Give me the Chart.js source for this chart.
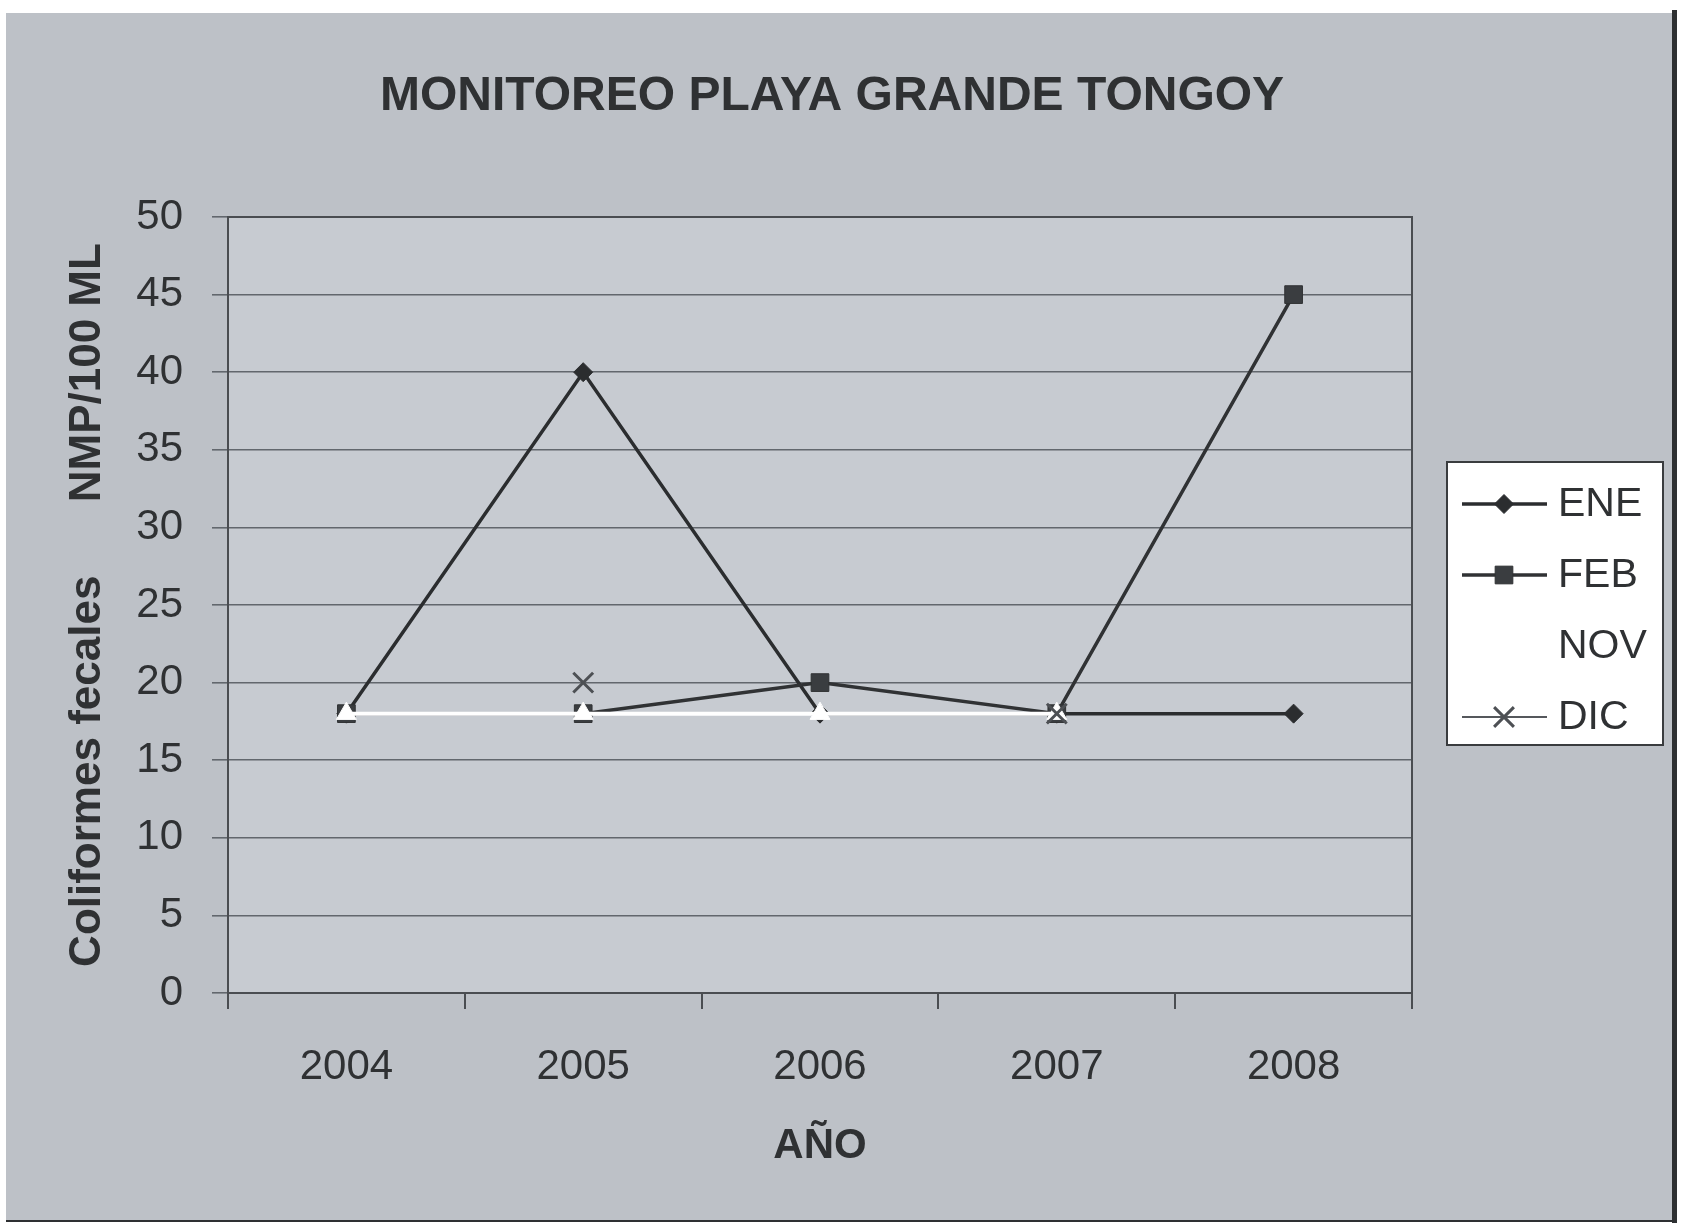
<!DOCTYPE html>
<html>
<head>
<meta charset="utf-8">
<title>Monitoreo Playa Grande Tongoy</title>
<script src="https://cdn.jsdelivr.net/npm/chart.js@4/dist/chart.umd.min.js"></script>
<style>
    html, body { margin: 0; padding: 0; background: #ffffff; }
    #wrap { width: 1683px; height: 1226px; }
</style>
</head>
<body>
<div id="wrap"><canvas id="line"></canvas></div>
<script>
'use strict';

// 데이터
const years = ['2004', '2005', '2006', '2007', '2008'];
const seriesNames = ['ENE', 'FEB', 'NOV', 'DIC'];
const eneValues = [18, 40, 18, 18, 18];
const febValues = [18, 18, 20, 18, 45];
const novValues = [18, 18, 18, 18, null];
const dicValues = [null, 20, null, 18, null];
const yTicks = [0, 5, 10, 15, 20, 25, 30, 35, 40, 45, 50];
const chartTitle = 'MONITOREO PLAYA GRANDE TONGOY';

const FONT = '"Liberation Sans", Arial, sans-serif';
const TEXT = '#2f3133';

// 배경, 제목, 플롯 영역 테두리
const backdrop = {
    id: 'backdrop',
    beforeDraw(chart) {
        const ctx = chart.ctx;
        const a = chart.chartArea;
        ctx.save();
        ctx.fillStyle = '#ffffff';
        ctx.fillRect(0, 0, chart.width, chart.height);
        ctx.fillStyle = '#bdc1c7';
        ctx.fillRect(6, 13, 1668, 1208);
        ctx.fillStyle = '#c7cbd1';
        ctx.fillRect(a.left, a.top, a.right - a.left, a.bottom - a.top);
        // 오른쪽 / 아래 진한 테두리
        ctx.fillStyle = '#2e3032';
        ctx.fillRect(1672, 10, 5, 1213);
        ctx.fillRect(6, 1220, 1671, 2);

        // 제목은 그림 전체 기준으로 가운데
        ctx.fillStyle = TEXT;
        ctx.font = 'bold 48px ' + FONT;
        ctx.textAlign = 'center';
        ctx.textBaseline = 'middle';
        ctx.fillText(chartTitle, 832, 97);
        ctx.restore();
    },
    afterDatasetsDraw(chart) {
        const ctx = chart.ctx;
        const a = chart.chartArea;
        ctx.save();
        ctx.strokeStyle = '#4a4d51';
        ctx.lineWidth = 2;
        ctx.beginPath();
        ctx.moveTo(a.left, a.top);
        ctx.lineTo(a.right, a.top);
        ctx.lineTo(a.right, a.bottom);
        ctx.stroke();
        ctx.restore();
    }
};

// 엑셀 스타일 범례 (선 + 마커)
const sideLegend = {
    id: 'sideLegend',
    afterDraw(chart) {
        const ctx = chart.ctx;
        const box = { x: 1447, y: 462, w: 216, h: 283 };
        ctx.save();
        ctx.fillStyle = '#ffffff';
        ctx.fillRect(box.x, box.y, box.w, box.h);
        ctx.strokeStyle = '#3a3c3f';
        ctx.lineWidth = 2;
        ctx.strokeRect(box.x, box.y, box.w, box.h);

        chart.data.datasets.forEach(function (ds, i) {
            const y = 504 + i * 71;
            ctx.strokeStyle = ds.borderColor;
            ctx.lineWidth = ds.borderWidth;
            ctx.beginPath();
            ctx.moveTo(1462, y);
            ctx.lineTo(1547, y);
            ctx.stroke();

            ctx.fillStyle = ds.pointBackgroundColor;
            ctx.strokeStyle = ds.pointBorderColor;
            ctx.lineWidth = ds.pointBorderWidth;
            Chart.helpers.drawPoint(ctx, {
                pointStyle: ds.pointStyle,
                radius: ds.pointRadius,
                rotation: 0,
                borderWidth: ds.pointBorderWidth
            }, 1504, y);

            ctx.fillStyle = TEXT;
            ctx.font = '41px ' + FONT;
            ctx.textBaseline = 'middle';
            ctx.textAlign = 'left';
            ctx.fillText(ds.label, 1558, y + 1);
        });
        ctx.restore();
    }
};

const data = {
    labels: years,
    datasets: [
        {
            label: seriesNames[0],
            data: eneValues,
            borderColor: '#2b2d2f',
            borderWidth: 3.5,
            pointStyle: 'rectRot',
            pointRadius: 9.5,
            pointBackgroundColor: '#2b2d2f',
            pointBorderColor: '#2b2d2f',
            pointBorderWidth: 1,
            order: 3
        },
        {
            label: seriesNames[1],
            data: febValues,
            borderColor: '#303234',
            borderWidth: 3.5,
            pointStyle: 'rect',
            pointRadius: 12.5,
            pointBackgroundColor: '#3a3d40',
            pointBorderColor: '#303234',
            pointBorderWidth: 1,
            order: 2
        },
        {
            label: seriesNames[2],
            data: novValues,
            borderColor: '#ffffff',
            borderWidth: 4,
            pointStyle: 'triangle',
            pointRadius: 11.5,
            pointBackgroundColor: '#ffffff',
            pointBorderColor: '#ffffff',
            pointBorderWidth: 1,
            order: 1
        },
        {
            label: seriesNames[3],
            data: dicValues,
            borderColor: '#55585c',
            borderWidth: 2,
            pointStyle: 'crossRot',
            pointRadius: 14,
            pointBackgroundColor: '#4d5054',
            pointBorderColor: '#4d5054',
            pointBorderWidth: 3,
            spanGaps: false,
            order: 0
        }
    ]
};

const config = {
    type: 'line',
    data,
    options: {
        responsive: true,
        maintainAspectRatio: false,
        animation: false,
        layout: { padding: { left: 0, right: 271, top: 217, bottom: 0 } },
        plugins: {
            legend: { display: false },
            tooltip: { enabled: false },
            title: { display: false }
        },
        scales: {
            x: {
                offset: true,
                afterFit(scale) { scale.height = 233; },
                grid: {
                    offset: true,
                    drawOnChartArea: false,
                    drawTicks: true,
                    tickLength: 16,
                    color: '#4a4d51',
                    lineWidth: 2
                },
                border: { display: true, color: '#4a4d51', width: 2 },
                ticks: {
                    color: TEXT,
                    font: { family: FONT, size: 42 },
                    padding: 33,
                    maxRotation: 0
                },
                title: {
                    display: true,
                    text: 'AÑO',
                    color: TEXT,
                    font: { family: FONT, size: 42, weight: 'bold' },
                    padding: { top: 0, bottom: 54 }
                }
            },
            y: {
                min: 0,
                max: 50,
                afterFit(scale) { scale.width = 228; },
                afterBuildTicks(scale) {
                    scale.ticks = yTicks.map(v => ({ value: v }));
                },
                grid: {
                    color: '#62676d',
                    lineWidth: 1.6,
                    tickLength: 16
                },
                border: { display: true, color: '#4a4d51', width: 2 },
                ticks: {
                    color: TEXT,
                    font: { family: FONT, size: 42 },
                    padding: 29
                },
                title: {
                    display: true,
                    text: 'Coliformes fecales      NMP/100 ML',
                    color: TEXT,
                    font: { family: FONT, size: 44, weight: 'bold' },
                    padding: { top: 61, bottom: 0 }
                }
            }
        }
    },
    plugins: [backdrop, sideLegend]
};

const lineChart = new Chart(document.getElementById('line'), config);
</script>
</body>
</html>
